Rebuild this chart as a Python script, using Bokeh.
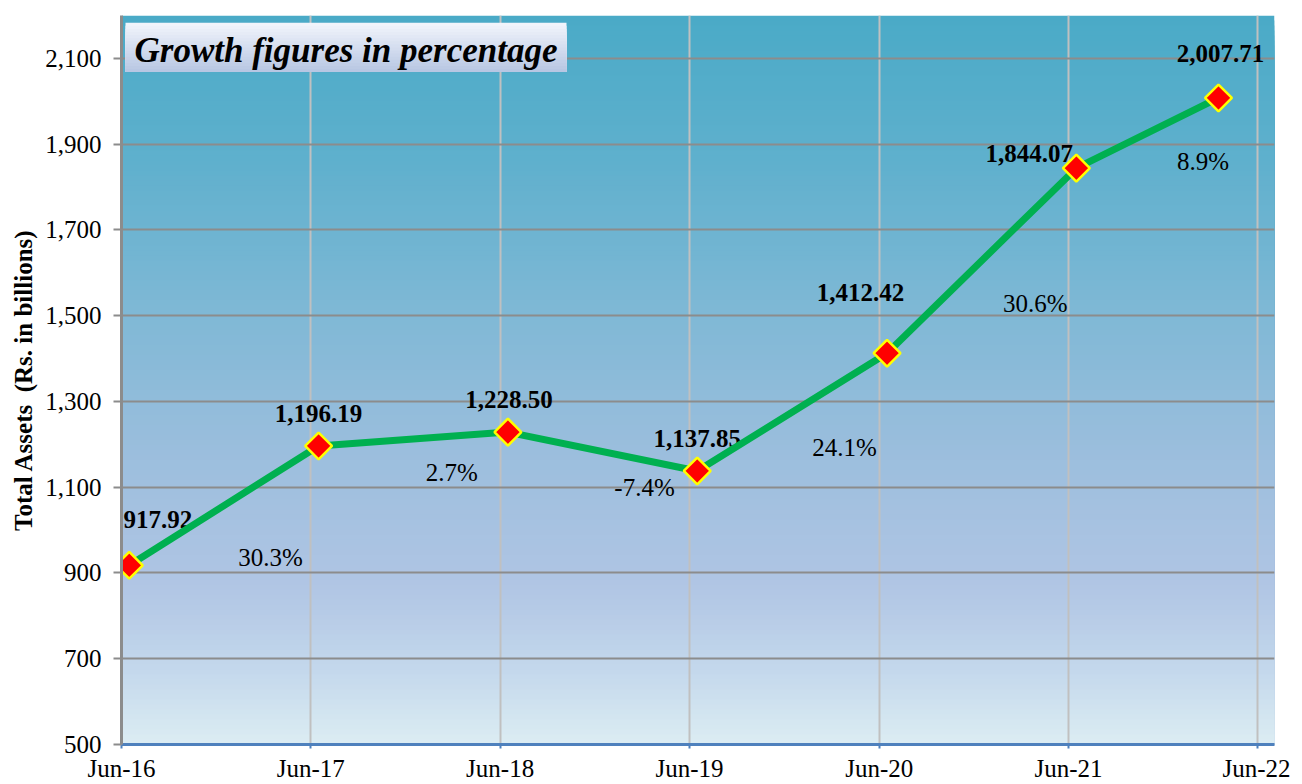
import numpy as np
from datetime import datetime
from bokeh.plotting import figure
from bokeh.models import (FixedTicker, DatetimeTickFormatter, NumeralTickFormatter,
                          Range1d, Label, BoxAnnotation, ColumnDataSource)
from bokeh.core.properties import value
from bokeh.embed import file_html
from bokeh.resources import INLINE

# ---------------- data ----------------
period_dates = ["2016-06-30", "2017-06-30", "2018-06-30", "2019-06-30",
                "2020-06-30", "2021-06-30", "2022-03-31"]
total_assets = [917.92, 1196.19, 1228.50, 1137.85, 1412.42, 1844.07, 2007.71]
growth_pct = [30.3, 2.7, -7.4, 24.1, 30.6, 8.9]
x_tick_dates = ["2016-06-15", "2017-06-15", "2018-06-15", "2019-06-15",
                "2020-06-15", "2021-06-15", "2022-06-15"]
y_ticks = [500, 700, 900, 1100, 1300, 1500, 1700, 1900, 2100]
title_text = "Growth figures in percentage"
y_label = "Total Assets \u00a0(Rs. in billions)"

# ---------------- helpers ----------------
EPOCH = datetime(1970, 1, 1)


def ms(s):
    return (datetime.strptime(s, "%Y-%m-%d") - EPOCH).total_seconds() * 1000.0


FONT = "Liberation Serif"
FRAME_W, FRAME_H = 1153, 730
X0, X1 = ms("2016-06-15"), ms("2022-07-17")
Y0, Y1 = 500, 2200


def px2x(px):
    return X0 + px * (X1 - X0) / FRAME_W


def px2y(px_from_top):
    return Y1 - px_from_top * (Y1 - Y0) / FRAME_H


xs = [ms(d) for d in period_dates]

W, H = 1290, 784
p = figure(width=W, height=H, output_backend="svg", toolbar_location=None,
           x_range=Range1d(X0, X1), y_range=Range1d(Y0, Y1),
           min_border_left=121, min_border_right=W - 121 - FRAME_W,
           min_border_top=15, min_border_bottom=H - 15 - FRAME_H)
p.outline_line_color = None
p.background_fill_color = "white"
p.border_fill_color = "white"

# ---------------- gradient background ----------------
stops = [(0.0, (74, 170, 199)), (0.2, (95, 176, 205)), (0.4, (126, 184, 213)),
         (0.6, (155, 190, 221)), (0.78, (176, 197, 228)), (0.9, (196, 216, 236)),
         (1.0, (220, 237, 243))]
N = 146
edges = np.linspace(Y1, Y0, N + 1)
cols = []
for i in range(N):
    f = (i + 0.5) / N
    for (f0, c0), (f1, c1) in zip(stops[:-1], stops[1:]):
        if f0 <= f <= f1:
            t = (f - f0) / (f1 - f0)
            c = tuple(int(round(a + (b - a) * t)) for a, b in zip(c0, c1))
            cols.append("#%02x%02x%02x" % c)
            break
# each strip runs from its own top to the bottom; later strips cover lower parts
p.quad(left=X0, right=X1, top=edges[:-1], bottom=Y0, fill_color=cols,
       line_color=None, level="image")

# ---------------- axes and grid ----------------
p.xaxis.ticker = FixedTicker(ticks=[ms(d) for d in x_tick_dates])
p.xaxis.formatter = DatetimeTickFormatter(days="%b-%y", months="%b-%y", years="%b-%y")
p.yaxis.ticker = FixedTicker(ticks=y_ticks)
p.yaxis.formatter = NumeralTickFormatter(format="0,0")

p.yaxis.axis_line_color = "#8c8c8c"
p.yaxis.axis_line_width = 3
p.yaxis.major_tick_line_color = "#8c8c8c"
p.yaxis.major_tick_line_width = 2
p.yaxis.major_tick_out = 8
p.yaxis.major_tick_in = 0
p.yaxis.minor_tick_line_color = None
p.yaxis.major_label_text_font = FONT
p.yaxis.major_label_text_font_size = "25px"
p.yaxis.major_label_text_color = "black"
p.yaxis.major_label_standoff = 12
p.yaxis.axis_label = y_label
p.yaxis.axis_label_text_font = FONT
p.yaxis.axis_label_text_font_size = "25px"
p.yaxis.axis_label_text_font_style = "bold"
p.yaxis.axis_label_text_color = "black"
p.yaxis.axis_label_standoff = 5

p.xaxis.axis_line_color = "#4f81bd"
p.xaxis.axis_line_width = 3
p.xaxis.major_tick_line_color = "#4f81bd"
p.xaxis.major_tick_line_width = 2
p.xaxis.major_tick_out = 4
p.xaxis.major_tick_in = 0
p.xaxis.minor_tick_line_color = None
p.xaxis.major_label_text_font = FONT
p.xaxis.major_label_text_font_size = "25px"
p.xaxis.major_label_text_color = "black"
p.xaxis.major_label_standoff = 6

p.ygrid.grid_line_color = "#8c8c8c"
p.ygrid.grid_line_width = 2
p.xgrid.grid_line_color = "#c0c0c0"
p.xgrid.grid_line_width = 2

# ---------------- labels ----------------
val_dx = [28.5, 0, 1, 0, -26.5, -47, 2]
val_dy = [-44, -30, -31, -30, -59, -12.5, -42]
BASE = -2
val_src = ColumnDataSource(dict(
    x=xs, y=total_assets, t=[f"{v:,.2f}" for v in total_assets],
    dx=val_dx, dy=[d + BASE for d in val_dy]))
p.text(x="x", y="y", text="t", source=val_src, x_offset="dx", y_offset="dy",
       text_font=value(FONT), text_font_size="25px", text_font_style="bold",
       text_color="black", text_align="center", text_baseline="alphabetic")

mid_x = [(a + b) / 2 for a, b in zip(xs[:-1], xs[1:])]
mid_y = [(a + b) / 2 for a, b in zip(total_assets[:-1], total_assets[1:])]
pct_dx = [46.5, 38.5, 42, 52.5, 53.5, 55.5]
pct_dy = [54, 35.5, 37.5, 37, 45, 30.5]
pct_src = ColumnDataSource(dict(
    x=mid_x, y=mid_y, t=[f"{g:.1f}%" for g in growth_pct],
    dx=pct_dx, dy=[d + BASE for d in pct_dy]))
p.text(x="x", y="y", text="t", source=pct_src, x_offset="dx", y_offset="dy",
       text_font=value(FONT), text_font_size="25px", text_font_style="normal",
       text_color="black", text_align="center", text_baseline="alphabetic")

# ---------------- line and markers ----------------
p.line(xs, total_assets, line_color="#00b050", line_width=7, line_join="round")
p.scatter(xs, total_assets, marker="square", angle=np.pi / 4, size=19,
          fill_color="#ff0000", line_color="#ffff00", line_width=2.5)

# ---------------- title box ----------------
tb_top, tb_bot = 7.3, 56.7
NB = 16
tb_edges = np.linspace(tb_top, tb_bot, NB + 1)
c_top, c_bot = (243, 245, 252), (182, 198, 226)
for i in range(NB):
    t = (i + 0.5) / NB
    c = tuple(int(round(a + (b - a) * t)) for a, b in zip(c_top, c_bot))
    p.add_layout(BoxAnnotation(left=px2x(4), right=px2x(445),
                               top=px2y(tb_edges[i]), bottom=px2y(tb_bot),
                               fill_color="#%02x%02x%02x" % c, fill_alpha=1.0,
                               line_color=None))
p.add_layout(Label(x=px2x(13), y=px2y(35), text=title_text,
                   text_font=FONT, text_font_size="35px",
                   text_font_style="bold italic", text_color="black",
                   text_baseline="alphabetic", text_align="left"))

open("out.html", "w").write(file_html(p, INLINE))
